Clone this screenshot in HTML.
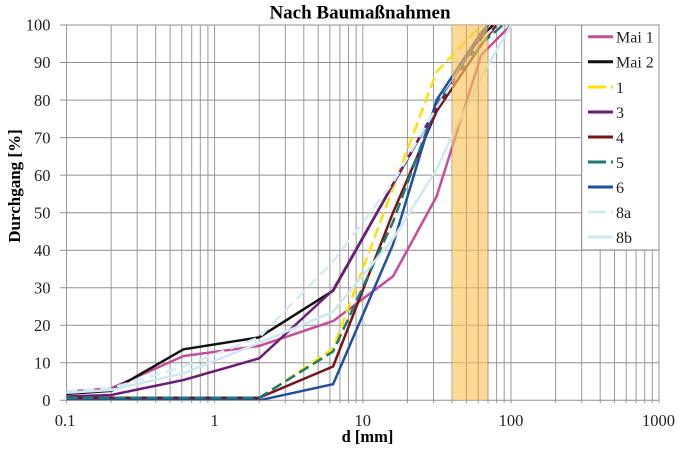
<!DOCTYPE html>
<html><head><meta charset="utf-8"><style>
html,body{margin:0;padding:0;background:#fff;}
svg{display:block;}
text{font-family:"Liberation Serif",serif;}
</style></head><body>
<svg width="685" height="451" viewBox="0 0 685 451" xmlns="http://www.w3.org/2000/svg">
<defs><clipPath id="pc"><rect x="66.5" y="25" width="592.5" height="375.3"/></clipPath></defs>
<rect width="685" height="451" fill="#fff"/>
<!-- vertical grid -->
<g stroke="#9a9a9a" stroke-width="1">
<line x1="66.5" y1="25" x2="66.5" y2="403"/>
<line x1="111.1" y1="25" x2="111.1" y2="403"/>
<line x1="137.2" y1="25" x2="137.2" y2="403"/>
<line x1="155.7" y1="25" x2="155.7" y2="403"/>
<line x1="170.1" y1="25" x2="170.1" y2="403"/>
<line x1="181.8" y1="25" x2="181.8" y2="403"/>
<line x1="191.7" y1="25" x2="191.7" y2="403"/>
<line x1="200.3" y1="25" x2="200.3" y2="403"/>
<line x1="207.9" y1="25" x2="207.9" y2="403"/>
<line x1="214.6" y1="25" x2="214.6" y2="403"/>
<line x1="259.2" y1="25" x2="259.2" y2="403"/>
<line x1="285.3" y1="25" x2="285.3" y2="403"/>
<line x1="303.8" y1="25" x2="303.8" y2="403"/>
<line x1="318.2" y1="25" x2="318.2" y2="403"/>
<line x1="329.9" y1="25" x2="329.9" y2="403"/>
<line x1="339.9" y1="25" x2="339.9" y2="403"/>
<line x1="348.5" y1="25" x2="348.5" y2="403"/>
<line x1="356.1" y1="25" x2="356.1" y2="403"/>
<line x1="362.8" y1="25" x2="362.8" y2="403"/>
<line x1="407.4" y1="25" x2="407.4" y2="403"/>
<line x1="433.5" y1="25" x2="433.5" y2="403"/>
<line x1="452.0" y1="25" x2="452.0" y2="403"/>
<line x1="466.4" y1="25" x2="466.4" y2="403"/>
<line x1="478.2" y1="25" x2="478.2" y2="403"/>
<line x1="488.0" y1="25" x2="488.0" y2="403"/>
<line x1="496.6" y1="25" x2="496.6" y2="403"/>
<line x1="504.2" y1="25" x2="504.2" y2="403"/>
<line x1="511.0" y1="25" x2="511.0" y2="403"/>
<line x1="555.6" y1="25" x2="555.6" y2="403"/>
<line x1="581.7" y1="25" x2="581.7" y2="403"/>
<line x1="600.2" y1="25" x2="600.2" y2="403"/>
<line x1="614.5" y1="25" x2="614.5" y2="403"/>
<line x1="626.2" y1="25" x2="626.2" y2="403"/>
<line x1="636.1" y1="25" x2="636.1" y2="403"/>
<line x1="644.7" y1="25" x2="644.7" y2="403"/>
<line x1="652.3" y1="25" x2="652.3" y2="403"/>
<line x1="659.0" y1="25" x2="659.0" y2="403"/>
</g>
<!-- horizontal grid -->
<g stroke="#8f8f8f" stroke-width="1">
<line x1="60" y1="25" x2="659" y2="25"/>
<line x1="60" y1="62.5" x2="659" y2="62.5"/>
<line x1="60" y1="100.1" x2="659" y2="100.1"/>
<line x1="60" y1="137.6" x2="659" y2="137.6"/>
<line x1="60" y1="175.1" x2="659" y2="175.1"/>
<line x1="60" y1="212.7" x2="659" y2="212.7"/>
<line x1="60" y1="250.2" x2="659" y2="250.2"/>
<line x1="60" y1="287.7" x2="659" y2="287.7"/>
<line x1="60" y1="325.2" x2="659" y2="325.2"/>
<line x1="60" y1="362.8" x2="659" y2="362.8"/>
<line x1="60" y1="400.3" x2="659" y2="400.3"/>
</g>
<!-- series -->
<g clip-path="url(#pc)" fill="none" stroke-width="2.5" stroke-linejoin="round">
<polyline stroke="#C64C9C" points="66.5,391.7 111.1,388.3 183.5,356.0 259.25,345.9 333.1,321.1 393.0,276.4 436.6,196.5 481.2,55.0 511,25"/>
<polyline stroke="#111111" points="66.5,393.9 111.1,390.9 183.5,349.3 259.25,337.3 333.1,290.7 393,184.5 436.6,107.6 481.2,38 493,25"/>
<polyline stroke="#FFE000" stroke-dasharray="11,5" points="66.5,398.4 259.25,398.4 333.1,348.5 393,187.9 436.6,71.9 481.2,25"/>
<polyline stroke="#6E1E78" points="66.5,396.5 111.1,395.0 183.5,380.0 259.25,358.3 333.1,290.0 393,184.1 436.6,107.6 481.2,36.3 488,25"/>
<polyline stroke="#7B1416" points="66.5,397.7 259.25,397.7 333.1,366.5 393,212.7 436.6,111.3 481.2,44.9 496.6,25"/>
<polyline stroke="#1E7B73" stroke-dasharray="11,5" points="66.5,397.7 259.25,397.7 333.1,351.5 393,222.0 436.6,103.8 481.2,43.8 503,25"/>
<polyline stroke="#2050A0" points="66.5,400.3 259.25,400.3 333.1,384.2 393,244.5 436.6,100.1 481.2,32.5 488,25"/>
<polyline stroke="#D3EBF5" stroke-dasharray="11,6" points="66.5,391.7 111.1,388.3 183.5,366.5 259.25,337.3 333.1,261.4 393,182.6 436.6,107.6 481.2,40 496.6,25"/>
<polyline stroke="#CFE7F1" points="66.5,392.8 111.1,390.0 183.5,373.3 259.25,342.9 333.1,311.7 393,238.9 436.6,169.5 452,135.7 481.2,77.5 511,25"/>
</g>
<!-- band -->
<rect x="452" y="25" width="35.5" height="375.3" fill="#FBC55A" fill-opacity="0.65"/>
<g stroke="#b89a60" stroke-width="1" stroke-opacity="0.6">
<line x1="466.4" y1="25" x2="466.4" y2="400"/>
<line x1="478.2" y1="25" x2="478.2" y2="400"/>
</g>
<!-- legend -->
<rect x="581.7" y="25" width="77.3" height="225" fill="#fff" stroke="#8f8f8f" stroke-width="1"/>
<g stroke-width="3" fill="none">
<line x1="588" y1="36.7" x2="613" y2="36.7" stroke="#C64C9C"/>
<line x1="588" y1="61.7" x2="613" y2="61.7" stroke="#111"/>
<line x1="588" y1="87" x2="613" y2="87" stroke="#FFE000" stroke-dasharray="18,5"/>
<line x1="588" y1="112" x2="613" y2="112" stroke="#6E1E78"/>
<line x1="588" y1="137" x2="613" y2="137" stroke="#7B1416"/>
<line x1="588" y1="162" x2="613" y2="162" stroke="#1E7B73" stroke-dasharray="18,5"/>
<line x1="588" y1="187" x2="613" y2="187" stroke="#2050A0"/>
<line x1="588" y1="212" x2="613" y2="212" stroke="#D3EBF5" stroke-dasharray="18,5"/>
<line x1="588" y1="237" x2="613" y2="237" stroke="#CFE7F1"/>
</g>
<g font-size="16" fill="#222">
<text x="616" y="42.5">Mai 1</text>
<text x="616" y="67.5">Mai 2</text>
<text x="616" y="93">1</text>
<text x="616" y="118">3</text>
<text x="616" y="143">4</text>
<text x="616" y="168">5</text>
<text x="616" y="193">6</text>
<text x="616" y="218">8a</text>
<text x="616" y="243">8b</text>
</g>
<!-- y tick labels -->
<g font-size="16.5" fill="#222" text-anchor="end">
<text x="50.5" y="30.7">100</text>
<text x="50.5" y="68.2">90</text>
<text x="50.5" y="105.8">80</text>
<text x="50.5" y="143.3">70</text>
<text x="50.5" y="180.8">60</text>
<text x="50.5" y="218.4">50</text>
<text x="50.5" y="255.9">40</text>
<text x="50.5" y="293.4">30</text>
<text x="50.5" y="330.9">20</text>
<text x="50.5" y="368.5">10</text>
<text x="50.5" y="406">0</text>
</g>
<!-- x tick labels -->
<g font-size="16.5" fill="#222" text-anchor="middle">
<text x="65" y="426">0.1</text>
<text x="214.6" y="426">1</text>
<text x="362.8" y="426">10</text>
<text x="511" y="426">100</text>
<text x="658.5" y="426">1000</text>
</g>
<!-- titles -->
<text x="360" y="18.5" font-size="19" font-weight="bold" text-anchor="middle" fill="#000">Nach Baumaßnahmen</text>
<text x="367.5" y="442" font-size="16.5" font-weight="bold" text-anchor="middle" fill="#000">d [mm]</text>
<text transform="translate(20,186) rotate(-90)" font-size="17" font-weight="bold" text-anchor="middle" fill="#000">Durchgang [%]</text>
</svg>
</body></html>
